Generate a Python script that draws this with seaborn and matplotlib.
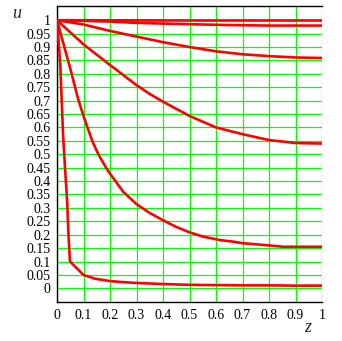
import numpy as np
import pandas as pd
import seaborn as sns
import matplotlib
matplotlib.use("Agg")
import matplotlib.pyplot as plt

# values, one curve per family member
z1 = [0.0, 0.5, 1.0]
u1 = [1.0, 0.999, 0.999]

z2 = [0.0, 0.2, 0.3, 0.5, 0.65, 0.8, 1.0]
u2 = [1.0, 0.995, 0.99, 0.985, 0.982, 0.98, 0.98]

z3 = [0.0, 0.1, 0.2, 0.3, 0.4, 0.5, 0.6, 0.7, 0.8, 0.9, 1.0]
u3 = [1.0, 0.984, 0.96, 0.939, 0.918, 0.9, 0.884, 0.873, 0.866, 0.861, 0.859]

z4 = [0.0, 0.1, 0.2, 0.3, 0.35, 0.4, 0.5, 0.6, 0.7, 0.8, 0.9, 1.0]
u4 = [1.0, 0.91, 0.833, 0.758, 0.725, 0.696, 0.643, 0.60, 0.575, 0.553, 0.542, 0.54]

z5 = [0.0, 0.025, 0.05, 0.08, 0.1, 0.115, 0.133, 0.156, 0.185, 0.2, 0.25,
      0.3, 0.35, 0.4, 0.45, 0.5, 0.55, 0.615, 0.665, 0.703, 0.753, 0.8, 0.854, 1.0]
u5 = [1.0, 0.91, 0.82, 0.705, 0.643, 0.6, 0.55, 0.5, 0.45, 0.428, 0.36,
      0.314, 0.281, 0.254, 0.229, 0.209, 0.193, 0.18, 0.174, 0.168, 0.164, 0.16, 0.155, 0.155]

z6 = [0.0, 0.0126, 0.0176, 0.02, 0.0226, 0.03, 0.038, 0.043, 0.049, 0.1, 0.143,
      0.2, 0.25, 0.3, 0.4, 0.5, 0.6, 0.7, 0.8, 0.9, 1.0]
u6 = [1.0, 0.833, 0.703, 0.647, 0.578, 0.454, 0.33, 0.206, 0.1, 0.05, 0.036,
      0.027, 0.023, 0.02, 0.016, 0.013, 0.012, 0.011, 0.011, 0.01, 0.01]

x_ticks = [0, 0.1, 0.2, 0.3, 0.4, 0.5, 0.6, 0.7, 0.8, 0.9, 1]
y_ticks = [0, 0.05, 0.1, 0.15, 0.2, 0.25, 0.3, 0.35, 0.4, 0.45, 0.5,
           0.55, 0.6, 0.65, 0.7, 0.75, 0.8, 0.85, 0.9, 0.95, 1]

sns.set_style("white")
plt.rcParams["font.family"] = ["Liberation Serif", "DejaVu Serif"]

fig = plt.figure(figsize=(3.42, 3.41), dpi=100)
ax = fig.add_axes([57 / 342, 1 - 302 / 341, 265 / 342, 296 / 341])

curves = [(z1, u1), (z2, u2), (z3, u3), (z4, u4), (z5, u5), (z6, u6)]
for z, u in curves:
    sns.lineplot(x=z, y=u, ax=ax, color="#ff0000", linewidth=1.9,
                 estimator=None, sort=False, zorder=3)

ax.set_xlim(0, 1)
ax.set_ylim(-0.051, 1.053)
ax.set_xticks(x_ticks)
ax.set_yticks(y_ticks)
ax.set_xticklabels([f"{t:g}" for t in x_ticks])
ax.set_yticklabels([f"{t:g}" for t in y_ticks])
ax.tick_params(length=0, labelsize=10, colors="black")
ax.tick_params(axis="y", pad=4.5)
ax.tick_params(axis="x", pad=5)

ax.grid(True, color="#00ff00", linewidth=0.9, zorder=1)
ax.set_axisbelow(True)

for side in ["left", "bottom", "top"]:
    ax.spines[side].set_color("black")
    ax.spines[side].set_linewidth(1.0)
ax.spines["right"].set_visible(False)

ax.set_xlabel("")
ax.set_ylabel("")
fig.text(17 / 342, 1 - 14 / 341, "u", fontsize=13, style="italic",
         ha="center", va="center")
fig.text(308 / 342, 1 - 327 / 341, "z", fontsize=13, style="italic",
         ha="center", va="center")

fig.savefig("out.png", dpi=100)
